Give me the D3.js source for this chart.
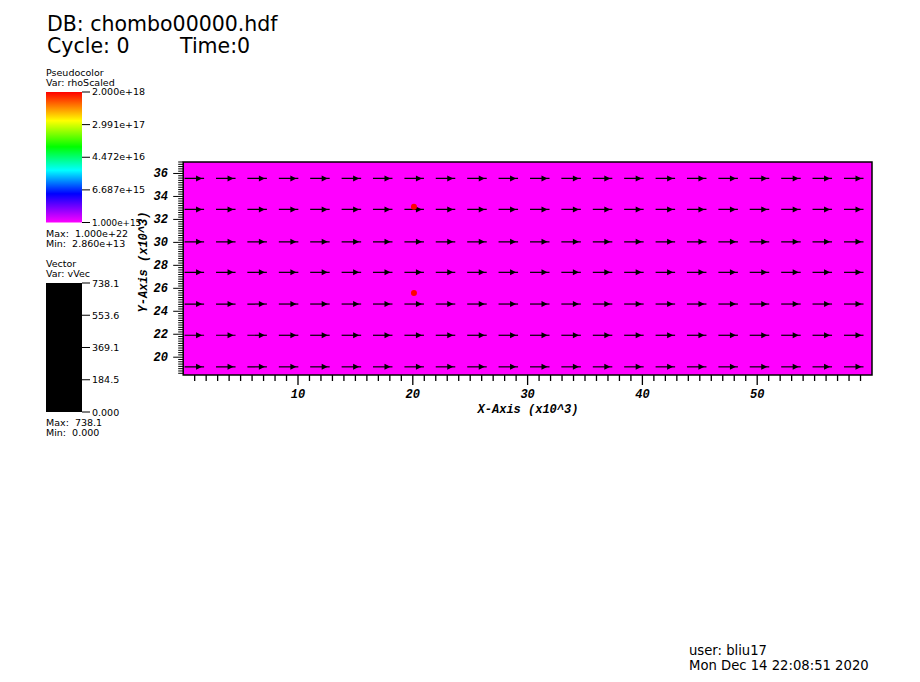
<!DOCTYPE html>
<html><head><meta charset="utf-8">
<script src="https://cdn.jsdelivr.net/npm/d3@7"></script>
<style>body{margin:0;background:#fff;} svg{display:block;}</style>
</head><body>
<svg id="c" width="920" height="682"></svg>
<script>
// ---- data ----
const titleLines = ["DB: chombo00000.hdf"];
const cycleLabel = "Cycle: 0";
const timeLabel = "Time:0";
const userLines = ["user: bliu17", "Mon Dec 14 22:08:51 2020"];
const xDomain = [0, 60];          // x10^3
const yDomain = [18.45, 37.0];    // x10^3
const xMajorTicks = [10, 20, 30, 40, 50];
const yMajorTicks = [20, 22, 24, 26, 28, 30, 32, 34, 36];
const xGrid = [0.12, 2.86, 5.59, 8.33, 11.06, 13.80, 16.53, 19.27, 22.00, 24.74, 27.47,
               30.21, 32.94, 35.68, 38.41, 41.15, 43.88, 46.62, 49.35, 52.09, 54.82, 57.56];
const yGrid = [19.16, 21.91, 24.63, 27.39, 30.05, 32.87, 35.57];
const rowMagnitude = [738.1, 738.1, 738.1, 738.1, 738.1, 738.1, 738.1];
const redPoints = [{x: 20.1, y: 33.1}, {x: 20.1, y: 25.6}];
const pcLabels = ["2.000e+18", "2.991e+17", "4.472e+16", "6.687e+15", "1.000e+15"];
const pcValues = [2.0e18, 2.991e17, 4.472e16, 6.687e15, 1.0e15];
const pcMinMax = ["Max:  1.000e+22", "Min:  2.860e+13"];
const vecLabels = ["738.1", "553.6", "369.1", "184.5", "0.000"];
const vecValues = [738.1, 553.6, 369.1, 184.5, 0.0];
const vecMinMax = ["Max:  738.1", "Min:  0.000"];
const rainbowStops = [["0%", "#ff0000"], ["22%", "#ffff00"], ["42%", "#00ff00"], ["60%", "#00ffff"], ["78%", "#0000ff"], ["100%", "#ff00ff"]];

// ---- layout ----
const svg = d3.select("#c");
const P = {l: 183.2, r: 872, t: 162, b: 375};
const x = d3.scaleLinear(xDomain, [P.l, P.r]);
const y = d3.scaleLinear(yDomain, [P.b, P.t]);
const sans = "'DejaVu Sans', sans-serif";
const mono = "'Liberation Mono', 'DejaVu Sans Mono', monospace";

// titles
svg.append("text").attr("x", 47).attr("y", 31).attr("font-family", sans).attr("font-size", 20.5).text(titleLines[0]);
svg.append("text").attr("x", 47).attr("y", 53).attr("font-family", sans).attr("font-size", 20.5).text(cycleLabel);
svg.append("text").attr("x", 180).attr("y", 53).attr("font-family", sans).attr("font-size", 20.5).text(timeLabel);
userLines.forEach((t, i) => svg.append("text").attr("x", 689).attr("y", 655 + i * 15).attr("font-family", sans).attr("font-size", 13.2).text(t));

// plot background
svg.append("rect").attr("x", P.l).attr("y", P.t).attr("width", P.r - P.l).attr("height", P.b - P.t).attr("fill", "#ff00ff");

// vectors
const vLen = d3.scaleLinear([0, 738.1], [0, 1.7]);
svg.append("clipPath").attr("id", "pc").append("rect").attr("x", P.l).attr("y", P.t).attr("width", P.r - P.l).attr("height", P.b - P.t);
const vg = svg.append("g").attr("clip-path", "url(#pc)");
yGrid.forEach((gy, j) => {
  xGrid.forEach(gx => {
    const x0 = x(gx), x1 = x(gx + vLen(rowMagnitude[j])), yy = y(gy);
    vg.append("line").attr("x1", x0).attr("x2", x1).attr("y1", yy).attr("y2", yy).attr("stroke", "#000").attr("stroke-width", 1.2);
    vg.append("path").attr("d", `M${x1 - 8},${yy - 3}L${x1 - 2},${yy}L${x1 - 8},${yy + 3}Z`).attr("fill", "#000");
  });
});

// red points
svg.selectAll(".rp").data(redPoints).join("circle").attr("cx", d => x(d.x)).attr("cy", d => y(d.y)).attr("r", 3).attr("fill", "#ff0000");

// border
svg.append("rect").attr("x", P.l).attr("y", P.t).attr("width", P.r - P.l).attr("height", P.b - P.t).attr("fill", "none").attr("stroke", "#000").attr("stroke-width", 1.5);

// x axis
const xMinor = d3.range(1, 60);
const xa = svg.append("g");
xa.selectAll("line").data(xMinor).join("line")
  .attr("x1", d => x(d)).attr("x2", d => x(d)).attr("y1", P.b).attr("y2", d => xMajorTicks.includes(d) ? P.b + 10 : P.b + 6)
  .attr("stroke", "#000").attr("stroke-width", 1.3);
xa.selectAll("text").data(xMajorTicks).join("text")
  .attr("x", d => x(d)).attr("y", 398).attr("text-anchor", "middle")
  .attr("font-family", mono).attr("font-weight", "bold").attr("font-style", "italic").attr("font-size", 12).text(d => d);
svg.append("text").attr("x", 528).attr("y", 413).attr("text-anchor", "middle")
  .attr("font-family", mono).attr("font-weight", "bold").attr("font-style", "italic").attr("font-size", 12).text("X-Axis (x10^3)");

// y axis
const yMinor = d3.range(186, 371, 2).map(v => v / 10);
const ya = svg.append("g");
ya.selectAll("line").data(yMinor).join("line")
  .attr("x1", d => (Math.abs(d - Math.round(d)) < 1e-6 && Math.round(d) % 2 === 0) ? P.l - 10 : P.l - 5).attr("x2", P.l)
  .attr("y1", d => y(d)).attr("y2", d => y(d)).attr("stroke", "#000").attr("stroke-width", 1);
ya.selectAll("text").data(yMajorTicks).join("text")
  .attr("x", 168).attr("y", d => y(d) + 4).attr("text-anchor", "end")
  .attr("font-family", mono).attr("font-weight", "bold").attr("font-style", "italic").attr("font-size", 12).text(d => d);
svg.append("text").attr("transform", "translate(147,262) rotate(-90)").attr("text-anchor", "middle")
  .attr("font-family", mono).attr("font-weight", "bold").attr("font-style", "italic").attr("font-size", 12).text("Y-Axis (x10^3)");

// pseudocolor legend
const grad = svg.append("defs").append("linearGradient").attr("id", "rb").attr("x1", 0).attr("x2", 0).attr("y1", 0).attr("y2", 1);
rainbowStops.forEach(s => grad.append("stop").attr("offset", s[0]).attr("stop-color", s[1]));
const lg = svg.append("g").attr("font-family", sans).attr("font-size", 9.5);
lg.append("text").attr("x", 46).attr("y", 76).text("Pseudocolor");
lg.append("text").attr("x", 46).attr("y", 86).text("Var: rhoScaled");
lg.append("rect").attr("x", 46).attr("y", 92).attr("width", 36).attr("height", 130.5).attr("fill", "url(#rb)");
const pcScale = d3.scaleLog([1.0e15, 2.0e18], [222.5, 92]);
pcValues.forEach((v, i) => {
  lg.append("line").attr("x1", 82).attr("x2", 90).attr("y1", pcScale(v)).attr("y2", pcScale(v)).attr("stroke", "#000");
  lg.append("text").attr("x", 92).attr("y", pcScale(v) + 3.2).attr("font-size", i === pcValues.length - 1 ? 8.8 : 9.5).text(pcLabels[i]);
});
pcMinMax.forEach((t, i) => lg.append("text").attr("x", 46).attr("y", 236.5 + i * 10).style("white-space", "pre").text(t));

// vector legend
lg.append("text").attr("x", 46).attr("y", 267).text("Vector");
lg.append("text").attr("x", 46).attr("y", 277).text("Var: vVec");
lg.append("rect").attr("x", 46).attr("y", 283).attr("width", 36).attr("height", 129).attr("fill", "#000");
const vScale = d3.scaleLinear([0, 738.1], [412, 283]);
vecValues.forEach((v, i) => {
  lg.append("line").attr("x1", 82).attr("x2", 90).attr("y1", vScale(v)).attr("y2", vScale(v)).attr("stroke", "#000");
  lg.append("text").attr("x", 92).attr("y", vScale(v) + 3.5).text(vecLabels[i]);
});
vecMinMax.forEach((t, i) => lg.append("text").attr("x", 46).attr("y", 426 + i * 10).style("white-space", "pre").text(t));
</script>
</body></html>
